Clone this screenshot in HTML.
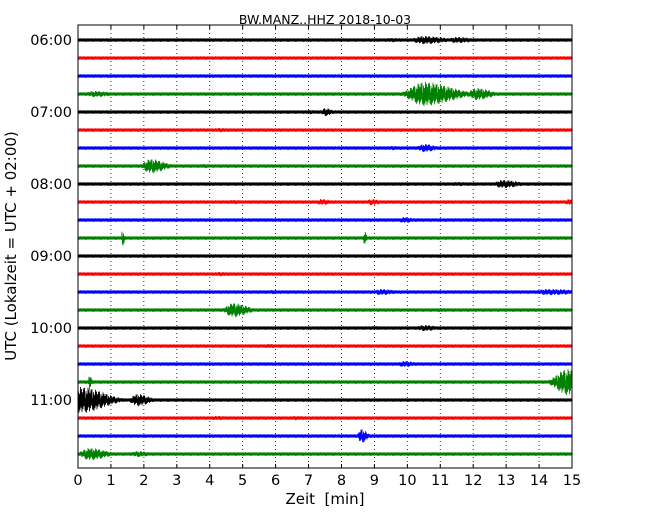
<!DOCTYPE html>
<html><head><meta charset="utf-8"><style>
html,body{margin:0;padding:0;background:#fff;}
svg{display:block;font-family:"DejaVu Sans","Liberation Sans",sans-serif;}
</style></head><body>
<svg id="chart" width="650" height="520" viewBox="0 0 650 520" xmlns="http://www.w3.org/2000/svg">
<text x="325" y="24" font-size="12.5" text-anchor="middle">BW.MANZ..HHZ 2018-10-03</text>
<text transform="translate(16,246) rotate(-90)" font-size="15" text-anchor="middle">UTC (Lokalzeit = UTC + 02:00)</text>
<text x="325" y="504" font-size="15" text-anchor="middle" xml:space="preserve">Zeit  [min]</text>
<g id="grid"></g><g id="traces"></g><g id="axes"></g>
<rect x="78" y="25" width="494" height="443" fill="none" stroke="#000" stroke-width="1"/>
</svg>
<script>
const xTicks=[0,1,2,3,4,5,6,7,8,9,10,11,12,13,14,15];
const hourLabels=["06:00","07:00","08:00","09:00","10:00","11:00"];
const traceColors=["#000000","#ff0000","#0000ff","#008000"];
const traceCount=24;
// bursts: trace index, onset-ish center minute, half-width minutes, amplitude (px)
const burstTrace=[0,0,0,3,3,3,4,4,5,6,6,7,7,8,8,9,9,9,9,10,11,11,13,14,14,14,15,15,16,16,17,18,19,19,20,20,21,21,22,23,23];
const burstCenter=[10.5,11.5,9.5,0.5,10.5,12.1,7.5,7.0,4.3,10.5,9.5,2.2,3.8,12.9,11.5,4.7,7.4,8.9,14.9,9.9,1.35,8.7,4.3,5.9,9.2,14.3,4.7,11.0,10.5,9.0,5.8,9.9,0.35,14.85,0.1,1.8,4.2,6.6,8.6,0.35,1.8];
const burstWidth=[0.45,0.35,0.4,0.35,0.6,0.3,0.15,0.3,0.3,0.25,0.3,0.3,0.25,0.35,0.3,0.3,0.2,0.2,0.15,0.2,0.04,0.04,0.3,0.3,0.3,0.6,0.3,0.2,0.3,0.2,0.3,0.25,0.04,0.5,0.5,0.25,0.35,0.35,0.12,0.35,0.25];
const burstAmp=[4,3,2,3,12,6,4,2,2,4,2,7,2,4,2,2,3,3,3,3,8,7,2,2,3,3,7,2,3,2,2,3,8,13,13,6,2,2,7,6,3];

const X0=78,X1=572,Y0=25,Y1=468,T0=40,DT=18;
const xs=m=>X0+m*(X1-X0)/15;
const ys=i=>T0+i*DT;
const NS="http://www.w3.org/2000/svg";
const mk=(t,a,p)=>{const e=document.createElementNS(NS,t);for(const k in a)e.setAttribute(k,a[k]);p.appendChild(e);return e;};
const grid=document.getElementById('grid'),tr=document.getElementById('traces'),ax=document.getElementById('axes');
xTicks.forEach(t=>{
  const x=xs(t);
  if(t>0&&t<15){const g=mk('line',{x1:x,x2:x,y1:Y0,y2:Y1,stroke:'#000','stroke-width':0.8,'stroke-dasharray':'1,3'},grid);
  
  }
  mk('line',{x1:x,x2:x,y1:Y1,y2:Y1-4,stroke:'#000'},ax);
  mk('line',{x1:x,x2:x,y1:Y0,y2:Y0+4,stroke:'#000'},ax);
  const l=mk('text',{x:x,y:Y1+17,'font-size':14.5,'text-anchor':'middle'},ax);l.textContent=t;
  
  
});
hourLabels.forEach((h,k)=>{
  const y=ys(k*4);
  mk('line',{x1:X0,x2:X0+4,y1:y,y2:y,stroke:'#000'},ax);
  mk('line',{x1:X1,x2:X1-4,y1:y,y2:y,stroke:'#000'},ax);
  const l=mk('text',{x:72,y:y+5,'font-size':14.5,'text-anchor':'end'},ax);l.textContent=h;
  
  
});
const jit=[0.9,-0.7,1,-0.5,0.8,-1,0.6,-0.85,0.95,-0.6,0.7,-0.9,0.5,-0.95,0.75];
for(let i=0;i<traceCount;i++){
  const y=ys(i),c=traceColors[i%4];
  const g=mk('g',{},tr);
  
  
  mk('line',{x1:X0,x2:X1,y1:y,y2:y,stroke:c,'stroke-width':3},g);
  let pts=[];
  for(let x=X0,n=0;x<=X1;x+=0.5,n++){
    const m=(x-X0)*15/(X1-X0);
    let a=1.7;
    burstTrace.forEach((t,b)=>{if(t===i){let d=(m-burstCenter[b])/burstWidth[b];if(d>0)d/=2.2;const e=burstAmp[b]*Math.exp(-d*d*1.5);if(e>a)a=e;}});
    pts.push(x.toFixed(1)+','+(y+a*jit[n%15]).toFixed(1));
  }
  mk('polyline',{points:pts.join(' '),fill:'none',stroke:c,'stroke-width':0.8},g);
}
</script>
</body></html>
